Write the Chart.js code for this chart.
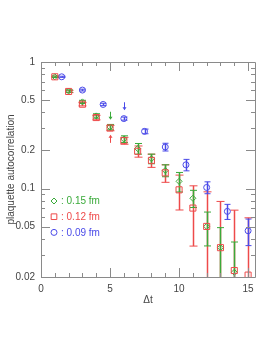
<!DOCTYPE html>
<html>
<head>
<meta charset="utf-8">
<script src="https://cdn.jsdelivr.net/npm/chart.js@4.4.0/dist/chart.umd.min.js"></script>
<style>
  html, body { margin: 0; padding: 0; background: #fff; }
  #c { display: block; }
</style>
</head>
<body>
<canvas id="c" width="274" height="355"></canvas>
<script>
// datos
const tGreen = [1, 2, 3, 4, 5, 6, 7, 8, 9, 10, 11, 12, 13, 14];
const acGreen = [0.764, 0.59, 0.484, 0.375, 0.306, 0.246, 0.207, 0.172, 0.139, 0.114, 0.0838, 0.0502, 0.0341, 0.0218];
const errGreen = [0.01, 0.012, 0.014, 0.015, 0.015, 0.015, 0.02, 0.015, 0.015, 0.02, 0.013, 0.015, 0.015, 0.016];

const tRed = [1, 2, 3, 4, 5, 6, 7, 8, 9, 10, 11, 12, 13, 14, 15];
const acRed = [0.764, 0.585, 0.464, 0.364, 0.301, 0.239, 0.197, 0.167, 0.133, 0.0977, 0.0701, 0.0502, 0.0341, 0.0225, 0.0207];
const errRed = [0.01, 0.012, 0.014, 0.015, 0.015, 0.015, 0.02, 0.02, 0.021, 0.03, 0.035, 0.044, 0.045, 0.045, 0.038];

const tBlue = [1.5, 3, 4.5, 6, 7.5, 9, 10.5, 12, 13.5, 15];
const acBlue = [0.764, 0.60, 0.462, 0.357, 0.283, 0.213, 0.154, 0.102, 0.066, 0.0464];
const errBlue = [0.008, 0.01, 0.01, 0.01, 0.012, 0.015, 0.016, 0.011, 0.009, 0.011];

// flechas
const arrowT = [6, 5, 5];
const arrowAc = [0.447, 0.376, 0.247];
const arrowDir = [1, 1, -1]; // 1 = hacia abajo
const arrowCol = ["#4a4ae8", "#3aaa3a", "#ee4a4a"];

// ticks
const xMajor = [0, 5, 10, 15];
const xMinor = [1, 2, 3, 4, 6, 7, 8, 9, 11, 12, 13, 14];
const yMajor = [1, 0.5, 0.2, 0.1, 0.05, 0.02];
const yMinor = [0.9, 0.8, 0.7, 0.6, 0.4, 0.3, 0.09, 0.08, 0.07, 0.06, 0.04, 0.03];

const legendLabels = [": 0.15 fm", ": 0.12 fm", ": 0.09 fm"];

const GREEN = "#3aaa3a", RED = "#ee4a4a", BLUE = "#4a4ae8";
const AXIS = "#8a8a8a";
const FONT = "'Liberation Sans', Arial, sans-serif";

function pts(xs, ys) {
  return xs.map((x, i) => ({ x: x, y: ys[i] }));
}

// barras de error
const errorBars = {
  id: "errorBars",
  beforeDatasetsDraw(chart) {
    const ctx = chart.ctx, xs = chart.scales.x, ys = chart.scales.y, a = chart.chartArea;
    ctx.save();
    ctx.beginPath();
    ctx.rect(a.left, a.top, a.right - a.left, a.bottom - a.top);
    ctx.clip();
    chart.data.datasets.forEach(ds => {
      if (!ds.errors) return;
      ds.data.forEach((p, i) => {
        const e = ds.errors[i];
        const px = Math.round(xs.getPixelForValue(p.x)) + 0.5;
        const top = ys.getPixelForValue(p.y + e);
        const lo = p.y - e;
        const bot = lo > 0 ? ys.getPixelForValue(lo) : a.bottom + 10;
        const cw = ds.capWidth;
        ctx.strokeStyle = ds.bandColor;
        ctx.lineWidth = 3;
        ctx.beginPath();
        ctx.moveTo(px, top); ctx.lineTo(px, bot);
        ctx.stroke();
        ctx.strokeStyle = ds.borderColor;
        ctx.lineWidth = 1;
        ctx.beginPath();
        ctx.moveTo(px, top); ctx.lineTo(px, bot);
        ctx.moveTo(px - cw, top); ctx.lineTo(px + cw, top);
        if (lo > 0) { ctx.moveTo(px - cw, bot); ctx.lineTo(px + cw, bot); }
        ctx.stroke();
      });
    });
    ctx.restore();
  }
};

// marco, ticks interiores, flechas y leyenda
const frame = {
  id: "frame",
  afterDraw(chart) {
    const ctx = chart.ctx, xs = chart.scales.x, ys = chart.scales.y, a = chart.chartArea;
    ctx.save();
    ctx.strokeStyle = AXIS;
    ctx.lineWidth = 1;
    ctx.beginPath();
    ctx.rect(a.left + 0.5, a.top + 0.5, a.right - a.left, a.bottom - a.top);
    ctx.stroke();

    ctx.beginPath();
    const xt = (v, len) => {
      const px = Math.round(xs.getPixelForValue(v)) + 0.5;
      ctx.moveTo(px, a.bottom); ctx.lineTo(px, a.bottom - len);
      ctx.moveTo(px, a.top); ctx.lineTo(px, a.top + len);
    };
    const yt = (v, len) => {
      const py = Math.round(ys.getPixelForValue(v)) + 0.5;
      ctx.moveTo(a.left, py); ctx.lineTo(a.left + len, py);
      ctx.moveTo(a.right, py); ctx.lineTo(a.right - len, py);
    };
    xMajor.forEach(v => xt(v, 9));
    xMinor.forEach(v => xt(v, 4));
    yMajor.forEach(v => yt(v, 9));
    yMinor.forEach(v => yt(v, 4));
    ctx.stroke();

    // flechas
    arrowT.forEach((t, i) => {
      const px = Math.round(xs.getPixelForValue(t)) + 0.5;
      const py = ys.getPixelForValue(arrowAc[i]);
      const d = arrowDir[i];
      ctx.strokeStyle = arrowCol[i];
      ctx.fillStyle = arrowCol[i];
      ctx.beginPath();
      ctx.moveTo(px, py - 4 * d); ctx.lineTo(px, py + 3 * d);
      ctx.stroke();
      ctx.beginPath();
      ctx.moveTo(px, py + 4 * d);
      ctx.lineTo(px - 2, py + 1 * d);
      ctx.lineTo(px + 2, py + 1 * d);
      ctx.closePath();
      ctx.fill();
    });

    // leyenda
    const cols = [GREEN, RED, BLUE];
    const styles = ["rectRot", "rect", "circle"];
    const radii = [3, 4, 3];
    ctx.font = "10px " + FONT;
    ctx.textBaseline = "middle";
    ctx.textAlign = "left";
    legendLabels.forEach((lab, i) => {
      const y = 201 + i * 15.7;
      ctx.strokeStyle = cols[i];
      ctx.fillStyle = "rgba(0,0,0,0)";
      ctx.lineWidth = 1;
      Chart.helpers.drawPoint(ctx, { pointStyle: styles[i], radius: radii[i], borderWidth: 1 }, 54, y);
      ctx.fillStyle = cols[i];
      ctx.fillText(lab, 61, y + 0.5);
    });
    ctx.restore();
  }
};

new Chart(document.getElementById("c"), {
  type: "scatter",
  data: {
    datasets: [
      {
        data: pts(tRed, acRed), errors: errRed, capWidth: 4,
        borderColor: RED, bandColor: "rgba(238,74,74,0.25)",
        backgroundColor: "rgba(0,0,0,0)", pointStyle: "rect", pointRadius: 4.3, borderWidth: 1
      },
      {
        data: pts(tGreen, acGreen), errors: errGreen, capWidth: 3.5,
        borderColor: GREEN, bandColor: "rgba(58,170,58,0.25)",
        backgroundColor: "rgba(0,0,0,0)", pointStyle: "rectRot", pointRadius: 3, borderWidth: 1
      },
      {
        data: pts(tBlue, acBlue), errors: errBlue, capWidth: 3,
        borderColor: BLUE, bandColor: "rgba(74,74,232,0.25)",
        backgroundColor: "rgba(0,0,0,0)", pointStyle: "circle", pointRadius: 3, borderWidth: 1
      }
    ]
  },
  options: {
    responsive: false,
    animation: false,
    layout: { padding: { left: 0, top: 62, right: 19, bottom: 47 } },
    plugins: { legend: { display: false }, tooltip: { enabled: false } },
    scales: {
      x: {
        type: "linear", min: 0, max: 15.5,
        afterBuildTicks: s => { s.ticks = xMajor.map(v => ({ value: v })); },
        afterFit: s => { s.height = 31; },
        grid: { display: false, drawTicks: false },
        border: { display: false },
        ticks: { padding: 6, color: "#444", font: { family: FONT, size: 10 }, maxRotation: 0 },
        title: { display: true, text: "Δt", color: "#444", padding: { top: 0, bottom: 2 }, font: { family: FONT, size: 10 } }
      },
      y: {
        type: "logarithmic", min: 0.02, max: 1,
        afterBuildTicks: s => { s.ticks = yMajor.map(v => ({ value: v })); },
        afterFit: s => { s.width = 41; },
        grid: { display: false, drawTicks: false },
        border: { display: false },
        ticks: { padding: 6, color: "#444", font: { family: FONT, size: 10 }, callback: v => String(v) },
        title: { display: true, text: "plaquette autocorrelation", color: "#444", padding: { top: 5, bottom: 5 }, font: { family: FONT, size: 10 } }
      }
    }
  },
  plugins: [errorBars, frame]
});
</script>
</body>
</html>
